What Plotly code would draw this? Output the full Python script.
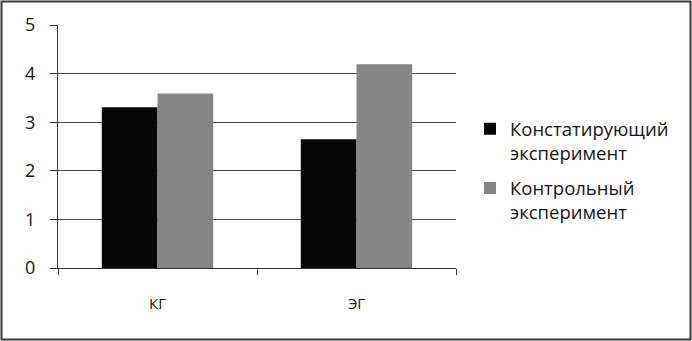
import plotly.graph_objects as go

categories = ["КГ", "ЭГ"]
series_names = ["Констатирующий<br>эксперимент", "Контрольный<br>эксперимент"]
konst_values = [3.31, 2.65]
kontr_values = [3.59, 4.19]
y_ticks = [0, 1, 2, 3, 4, 5]

W, H = 692, 341
ML, MR, MT, MB = 58, 236, 25, 73

fig = go.Figure()
fig.add_trace(go.Bar(x=categories, y=konst_values, name=series_names[0], legendgroup="a",
                     marker=dict(color="#050505", line=dict(width=0))))
fig.add_trace(go.Bar(x=categories, y=kontr_values, name=series_names[1], legendgroup="b",
                     marker=dict(color="#858585", line=dict(width=0))))

pw = W - ML - MR
ph = H - MT - MB
fig.add_shape(type="rect", xref="paper", yref="paper",
              x0=(1.5 - ML) / pw, x1=(690.5 - ML) / pw,
              y0=(H - 339.5 - MB) / ph, y1=(H - 1.5 - MB) / ph,
              line=dict(color="#3a3a3a", width=2), layer="below")

fig.update_layout(
    width=W, height=H,
    margin=dict(l=ML, r=MR, t=MT, b=MB, pad=0),
    paper_bgcolor="white", plot_bgcolor="white",
    barmode="group", bargap=0.44, bargroupgap=0,
    font=dict(family="Open Sans", color="#151515"),
    showlegend=True,
    legend=dict(x=(470 - ML) / pw, xanchor="left", y=0.40, yanchor="middle",
                font=dict(size=18.5, color="#151515"), tracegroupgap=8,
                valign="top", bgcolor="rgba(0,0,0,0)"),
    xaxis=dict(type="category", tickson="boundaries", ticks="outside", ticklen=6,
               tickcolor="#333333", showline=True, linecolor="#333333", linewidth=1,
               showgrid=False, tickfont=dict(size=15, color="#151515"),
               ticklabelstandoff=22),
    yaxis=dict(range=[0, 5], tickvals=y_ticks, ticks="outside", ticklen=7,
               tickcolor="#333333", showline=True, linecolor="#333333", linewidth=1,
               showgrid=True, gridcolor="#444444", gridwidth=1, zeroline=False,
               tickfont=dict(size=18, color="#151515"), ticklabelstandoff=11),
)

fig.write_html("out.html", config={"displayModeBar": False},
               post_script="document.body.style.margin='0';document.body.style.overflow='hidden';")
